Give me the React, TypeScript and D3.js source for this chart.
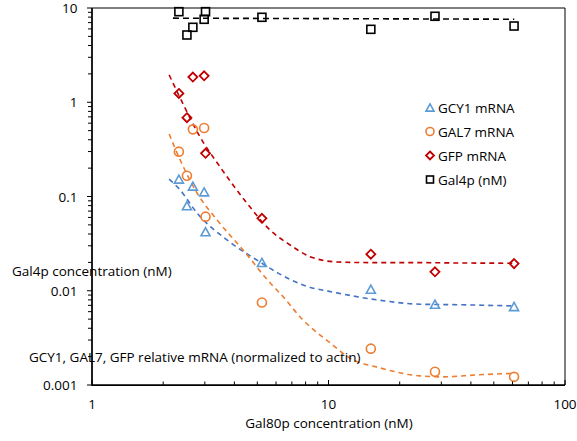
import React from "react";
import * as d3 from "d3";

// Gal80p concentration (nM) for each sample
const gal80 = [2.33, 2.52, 2.67, 2.98, 3.02, 5.23, 15.1, 28.2, 60.9];
// Relative mRNA levels (normalized to actin)
const gcy1 = [0.153, 0.0798, 0.129, 0.112, 0.0423, 0.02, 0.0104, 0.0072, 0.0068];
const gal7 = [0.299, 0.166, 0.516, 0.533, 0.0611, 0.0075, 0.00243, 0.00138, 0.00122];
const gfp = [1.24, 0.686, 1.85, 1.91, 0.287, 0.0587, 0.0244, 0.0159, 0.0194];
// Gal4p concentration (nM)
const gal4 = [9.14, 5.17, 6.24, 7.59, 9.14, 7.97, 5.94, 8.17, 6.44];

// Trend curves
const gfpTrendX = [2.12, 2.38, 2.86, 3.48, 4.52, 5.66, 6.88, 8.35, 10.9, 15.0, 22.8, 36, 60.9];
const gfpTrendY = [1.95, 1.06, 0.43, 0.206, 0.085, 0.044, 0.0306, 0.023, 0.0202, 0.0199, 0.0199, 0.0197, 0.0196];
const gcy1TrendX = [2.12, 2.36, 2.78, 3.72, 5.13, 6.12, 7.8, 10.86, 16.04, 24.37, 35.97, 60.85];
const gcy1TrendY = [0.153, 0.117, 0.0668, 0.0346, 0.0202, 0.0154, 0.0115, 0.0095, 0.008, 0.0072, 0.0071, 0.0069];
const gal7TrendX = [2.12, 2.36, 2.78, 3.38, 4.35, 5.77, 6.24, 7.8, 10.15, 12.33, 16.5, 24.4, 30.5, 42.5, 60.85];
const gal7TrendY = [0.46, 0.244, 0.109, 0.0563, 0.0271, 0.0115, 0.0094, 0.0049, 0.0028, 0.00193, 0.00152, 0.00125, 0.00122, 0.00128, 0.00133];
const gal4TrendX = [2.2, 61];
const gal4TrendY = [7.8, 7.6];

const xTickValues = [1, 10, 100];
const yTickValues = [0.001, 0.01, 0.1, 1, 10];
const yTickLabels = ["0.001", "0.01", "0.1", "1", "10"];

const legendLabels = ["GCY1 mRNA", "GAL7 mRNA", "GFP mRNA", "Gal4p (nM)"];

const W = 577;
const H = 441;
const L = 92, R = 565, T = 8, B = 385;

const FONT = "'Open Sans', sans-serif";
const BLUE = "#5B9BD5";
const BLUE_LINE = "#4472C4";
const ORANGE = "#ED7D31";
const RED = "#C00000";

type Shape = "tri" | "circ" | "diam" | "sq";

function Marker({ x, y, shape, color, s }: { x: number; y: number; shape: Shape; color: string; s: number }) {
  const sw = 1.6;
  if (shape === "tri") {
    const h = s * 0.9;
    const p = `M${x},${y - h / 2} L${x + s / 2},${y + h / 2} L${x - s / 2},${y + h / 2} Z`;
    return <path d={p} fill="none" stroke={color} strokeWidth={sw} strokeLinejoin="miter" />;
  }
  if (shape === "circ") return <circle cx={x} cy={y} r={s / 2} fill="none" stroke={color} strokeWidth={sw} />;
  if (shape === "diam") {
    const r = s / 2;
    const p = `M${x},${y - r} L${x + r},${y} L${x},${y + r} L${x - r},${y} Z`;
    return <path d={p} fill="none" stroke={color} strokeWidth={sw + 0.2} />;
  }
  return <rect x={x - s / 2} y={y - s / 2} width={s} height={s} fill="none" stroke={color} strokeWidth={sw} />;
}

export default function App() {
  const x = d3.scaleLog().domain([1, 100]).range([L, R]);
  const y = d3.scaleLog().domain([0.001, 10]).range([B, T]);

  const line = d3
    .line<[number, number]>()
    .x((d) => x(d[0]))
    .y((d) => y(d[1]))
    .curve(d3.curveMonotoneX);

  const zip = (a: number[], b: number[]) => a.map((v, i) => [v, b[i]] as [number, number]);

  const trends = [
    { d: zip(gcy1TrendX, gcy1TrendY), c: BLUE_LINE },
    { d: zip(gal7TrendX, gal7TrendY), c: ORANGE },
    { d: zip(gfpTrendX, gfpTrendY), c: RED },
  ];

  const series: { vals: number[]; shape: Shape; color: string }[] = [
    { vals: gcy1, shape: "tri", color: BLUE },
    { vals: gal7, shape: "circ", color: ORANGE },
    { vals: gfp, shape: "diam", color: RED },
    { vals: gal4, shape: "sq", color: "#000" },
  ];

  // minor ticks
  const xMinor: number[] = [];
  const yMinor: number[] = [];
  for (let e = 0; e < 2; e++) for (let k = 2; k <= 9; k++) xMinor.push(k * Math.pow(10, e));
  for (let e = -3; e < 1; e++) for (let k = 2; k <= 9; k++) yMinor.push(k * Math.pow(10, e));

  const legendY = [107.5, 131.5, 155.5, 179.5];

  return (
    <svg width={W} height={H} style={{ position: "absolute", left: 0, top: 0, background: "#fff" }} fontFamily={FONT}>
      <rect x={0} y={0} width={W} height={H} fill="#fff" />
      {/* frame */}
      <line x1={L} x2={R} y1={T} y2={T} stroke="#000" strokeWidth={1} />
      <line x1={R} x2={R} y1={T} y2={B} stroke="#000" strokeWidth={1} />

      {/* trend lines */}
      {trends.map((t, i) => (
        <path key={i} d={line(t.d) || ""} fill="none" stroke={t.c} strokeWidth={1.6} strokeDasharray="5,4" />
      ))}
      <path d={line(zip(gal4TrendX, gal4TrendY)) || ""} fill="none" stroke="#000" strokeWidth={1.6} strokeDasharray="6,4" />

      {/* points */}
      {series.map((s, si) =>
        s.vals.map((v, i) => (
          <Marker key={`${si}-${i}`} x={x(gal80[i])} y={y(v)} shape={s.shape} color={s.color} s={s.shape === "circ" ? 9 : s.shape === "sq" ? 8 : 9} />
        ))
      )}

      {/* axes */}
      <line x1={L} x2={L} y1={T} y2={B + 0.8} stroke="#000" strokeWidth={1.75} />
      <line x1={L} x2={R} y1={B} y2={B} stroke="#000" strokeWidth={1.75} />
      {yTickValues.map((v) => (
        <line key={`yt${v}`} x1={L - 5} x2={L} y1={y(v)} y2={y(v)} stroke="#000" strokeWidth={1} />
      ))}
      {yMinor.map((v) => (
        <line key={`ym${v}`} x1={L - 4} x2={L} y1={y(v)} y2={y(v)} stroke="#000" strokeWidth={1} />
      ))}
      {xTickValues.map((v) => (
        <line key={`xt${v}`} x1={x(v)} x2={x(v)} y1={B - 5} y2={B} stroke="#000" strokeWidth={1} />
      ))}
      {xMinor.map((v) => (
        <line key={`xm${v}`} x1={x(v)} x2={x(v)} y1={B - 3.5} y2={B} stroke="#000" strokeWidth={1} />
      ))}

      {yTickValues.map((v, i) => (
        <text key={`yl${v}`} x={77.5} y={y(v) + 5} textAnchor="end" fontSize={13.5} fill="#000">
          {yTickLabels[i]}
        </text>
      ))}
      {xTickValues.map((v) => (
        <text key={`xl${v}`} x={x(v)} y={409} textAnchor="middle" fontSize={13.5} fill="#000">
          {String(v)}
        </text>
      ))}

      {/* axis titles */}
      <text x={329} y={428} textAnchor="middle" fontSize={13.5} fill="#000">
        Gal80p concentration (nM)
      </text>
      <text x={12} y={276} fontSize={13.5} fill="#000">
        Gal4p concentration (nM)
      </text>
      <text x={29} y={361.5} fontSize={13.5} fill="#000">
        GCY1, GAL7, GFP relative mRNA (normalized to actin)
      </text>

      {/* legend */}
      {series.map((s, i) => (
        <g key={`lg${i}`}>
          <Marker x={430} y={legendY[i]} shape={s.shape} color={s.color} s={s.shape === "sq" ? 7 : 8} />
          <text x={438} y={legendY[i] + 5} fontSize={13.5} fill="#000">
            {legendLabels[i]}
          </text>
        </g>
      ))}
    </svg>
  );
}
